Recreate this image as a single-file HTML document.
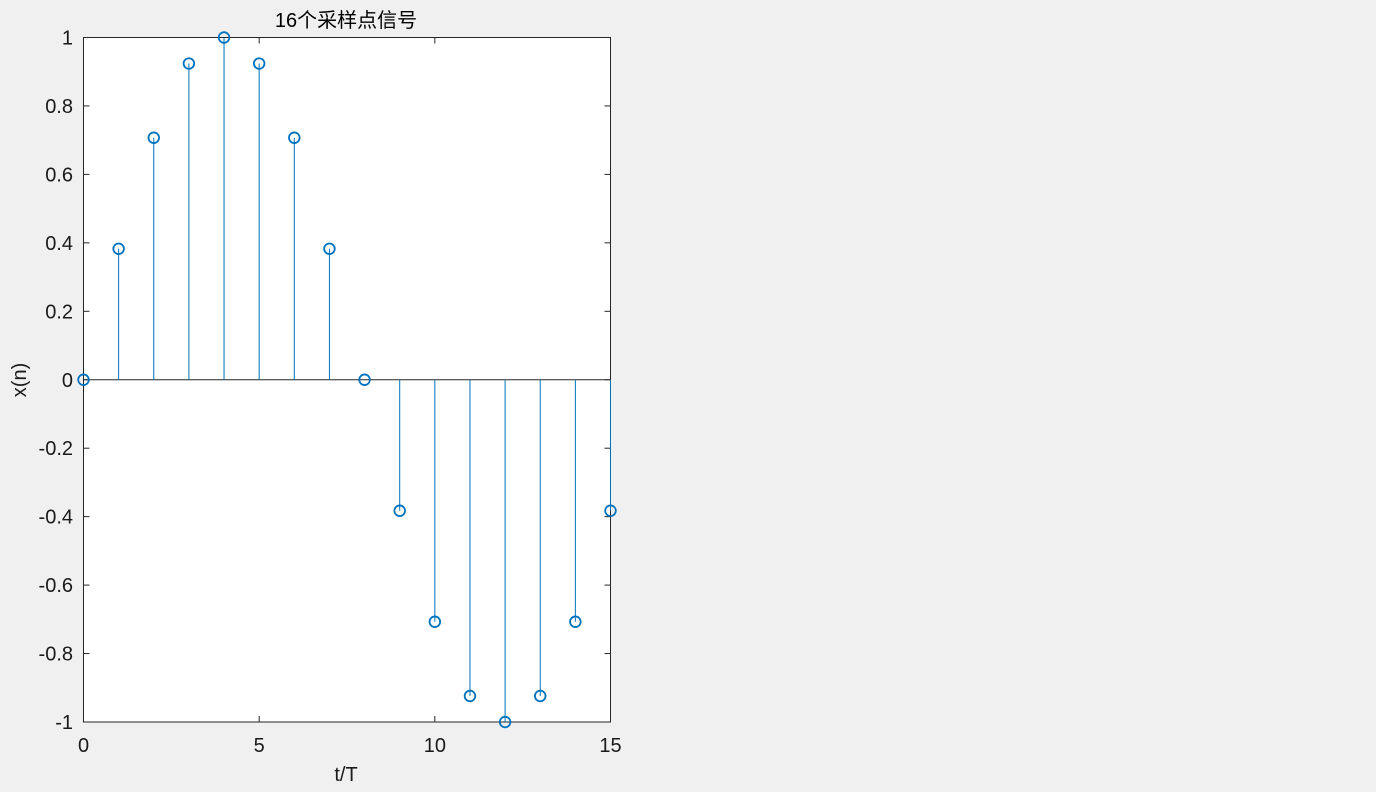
<!DOCTYPE html>
<html><head><meta charset="utf-8"><style>
body{margin:0;background:#f0f0f0;width:1376px;height:792px;overflow:hidden}
svg{display:block}
text{font-family:"Liberation Sans","Noto Sans CJK SC",sans-serif;fill:#1a1a1a}
</style></head><body>
<svg id="chart" width="1376" height="792">
<rect x="83.5" y="37.5" width="527" height="684.5" fill="#fff" stroke="#262626" stroke-width="1"/>
<g id="ticks"></g>
<g id="marks"></g>
<text x="346" y="27" font-size="20" text-anchor="middle" style="fill:#000">16个采样点信号</text>
<text x="346" y="781" font-size="20" text-anchor="middle">t/T</text>
<text transform="translate(26,380) rotate(-90)" font-size="20" text-anchor="middle">x(n)</text>
</svg>
<script>
const samples=[0,1,2,3,4,5,6,7,8,9,10,11,12,13,14,15];
const values=[0,0.3827,0.7071,0.9239,1,0.9239,0.7071,0.3827,0,-0.3827,-0.7071,-0.9239,-1,-0.9239,-0.7071,-0.3827];
const xTicks=[0,5,10,15];
const yTicks=[1,0.8,0.6,0.4,0.2,0,-0.2,-0.4,-0.6,-0.8,-1];
const X0=83.5,X1=610.5,Y0=722,Y1=37.5;
const xs=v=>X0+(v-0)/(15-0)*(X1-X0);
const ys=v=>Y0-(v+1)/2*(Y0-Y1);
const NS="http://www.w3.org/2000/svg";
const tg=document.getElementById('ticks'),mg=document.getElementById('marks');
function mk(tag,attrs,parent){const e=document.createElementNS(NS,tag);for(const k in attrs)e.setAttribute(k,attrs[k]);parent.appendChild(e);return e;}
xTicks.forEach(t=>{
  const x=xs(t);
  const l=mk('line',{x1:x,x2:x,y1:Y0,y2:Y0-6,stroke:'#262626'},tg);
  
  
  const l2=mk('line',{x1:x,x2:x,y1:Y1,y2:Y1+6,stroke:'#262626'},tg);
  
  
  const tx=mk('text',{x:x,y:752,'font-size':20,'text-anchor':'middle'},tg);tx.textContent=t;
  
  
});
yTicks.forEach(t=>{
  const y=ys(t);
  const l=mk('line',{x1:X0,x2:X0+6,y1:y,y2:y,stroke:'#262626'},tg);
  
  
  const l2=mk('line',{x1:X1-6,x2:X1,y1:y,y2:y,stroke:'#262626'},tg);
  
  
  const tx=mk('text',{x:73,y:y+7,'font-size':20,'text-anchor':'end'},tg);tx.textContent=t;
  
  
});
const base=mk('line',{x1:X0,x2:X1,y1:ys(0),y2:ys(0),stroke:'#262626','stroke-width':1},mg);


samples.forEach((n,i)=>{
  const x=xs(n),y=ys(values[i]);
  const s=mk('line',{x1:x,x2:x,y1:ys(0),y2:y,stroke:'#0072bd','stroke-width':1},mg);
  
  
  const c=mk('circle',{cx:x,cy:y,r:5.3,fill:'none',stroke:'#0072bd','stroke-width':1.8},mg);
  
  
});
</script>
</body></html>
